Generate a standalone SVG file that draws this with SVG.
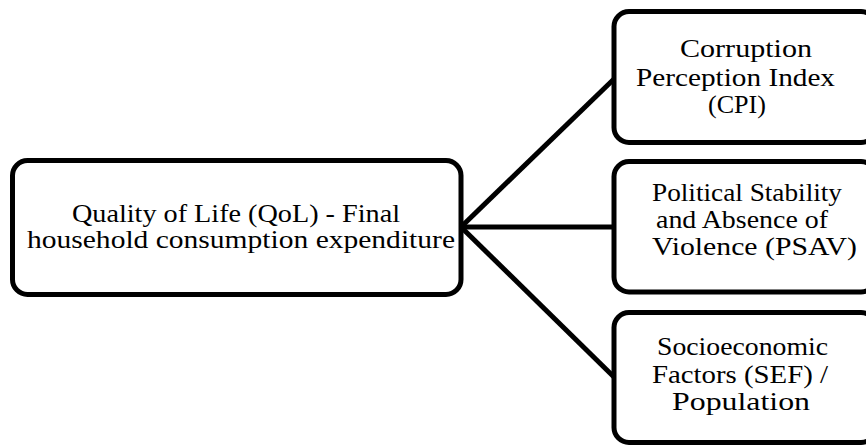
<svg xmlns="http://www.w3.org/2000/svg" width="866" height="445" viewBox="0 0 866 445">
<style>
.box{fill:#ffffff;stroke:#000000;stroke-width:5}
.t{font-family:"Liberation Serif","Times New Roman",serif;fill:#000000}
.l{font-size:25px}
.r{font-size:25px}
.conn{stroke:#000000;stroke-width:5;fill:none;stroke-linecap:butt}
</style>
<rect width="866" height="445" fill="#ffffff"/>
<g id="connectors">
<line class="conn" x1="461" y1="227" x2="614" y2="79"/>
<line class="conn" x1="461" y1="227" x2="614" y2="227"/>
<line class="conn" x1="461" y1="227" x2="614" y2="377"/>
</g>
<g id="node-qol">
<rect class="box" x="12.5" y="160.5" width="448.5" height="134" rx="15"/>
<text class="t l" x="72" y="222" textLength="328" lengthAdjust="spacingAndGlyphs">Quality of Life (QoL) - Final</text>
<text class="t l" x="27" y="247.5" textLength="428" lengthAdjust="spacingAndGlyphs">household consumption expenditure</text>
</g>
<g id="node-cpi">
<rect class="box" x="614" y="11.5" width="262" height="131" rx="15"/>
<text class="t r" x="680" y="57" textLength="132" lengthAdjust="spacingAndGlyphs">Corruption</text>
<text class="t r" x="636" y="86" textLength="199" lengthAdjust="spacingAndGlyphs">Perception Index</text>
<text class="t r" x="708" y="113" textLength="58" lengthAdjust="spacingAndGlyphs">(CPI)</text>
</g>
<g id="node-psav">
<rect class="box" x="614" y="161.5" width="262" height="130.5" rx="15"/>
<text class="t r" x="652" y="200.5" textLength="190" lengthAdjust="spacingAndGlyphs">Political Stability</text>
<text class="t r" x="656" y="227.5" textLength="172" lengthAdjust="spacingAndGlyphs">and Absence of</text>
<text class="t r" x="652" y="255" textLength="205" lengthAdjust="spacingAndGlyphs">Violence (PSAV)</text>
</g>
<g id="node-sef">
<rect class="box" x="614" y="312.5" width="262" height="130" rx="15"/>
<text class="t r" x="657" y="355" textLength="171" lengthAdjust="spacingAndGlyphs">Socioeconomic</text>
<text class="t r" x="652" y="383" textLength="176" lengthAdjust="spacingAndGlyphs">Factors (SEF) /</text>
<text class="t r" x="672" y="410" textLength="138" lengthAdjust="spacingAndGlyphs">Population</text>
</g>
</svg>
